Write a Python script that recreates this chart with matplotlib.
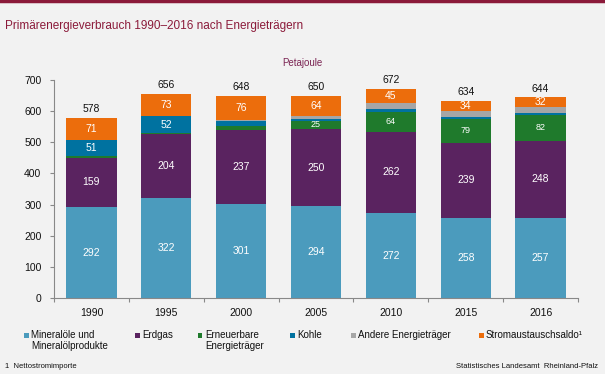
import matplotlib
matplotlib.use("Agg")
import matplotlib.pyplot as plt
from matplotlib.patches import Rectangle
import numpy as np

years = ["1990", "1995", "2000", "2005", "2010", "2015", "2016"]
mineraloel = [292, 322, 301, 294, 272, 258, 257]
erdgas = [159, 204, 237, 250, 262, 239, 248]
erneuerbare = [5, 5, 13, 25, 64, 79, 82]
kohle = [51, 52, 16, 7, 8, 4, 8]
andere = [0, 0, 5, 10, 21, 20, 17]
strom = [71, 73, 76, 64, 45, 34, 32]
totals = [578, 656, 648, 650, 672, 634, 644]

series_names = ["Mineralöle und\nMineralölprodukte", "Erdgas", "Erneuerbare\nEnergieträger",
                "Kohle", "Andere Energieträger", "Stromaustauschsaldo¹"]
colors = ["#4b9bbd", "#5a2360", "#1f7a2c", "#0072a0", "#a6a6a6", "#ec6d0c"]
# which series get value labels (threshold in PJ)
label_min = [0, 0, 25, 40, 1000, 0]

plt.rcParams["font.family"] = ["Liberation Sans", "DejaVu Sans"]
BG = "#f2f2f2"
DARKRED = "#8b1a3a"

fig = plt.figure(figsize=(6.05, 3.74), dpi=100, facecolor=BG)
W, H = 605, 374
ax = fig.add_axes([54 / W, (H - 298) / H, (578 - 54) / W, (298 - 80) / H])
ax.set_facecolor(BG)

x = np.arange(len(years))
data = [mineraloel, erdgas, erneuerbare, kohle, andere, strom]
bottom = np.zeros(len(years))
for i, (vals, c) in enumerate(zip(data, colors)):
    vals = np.array(vals, dtype=float)
    ax.bar(x, vals, width=0.67, bottom=bottom, color=c, linewidth=0)
    for j, v in enumerate(vals):
        if v >= label_min[i] and v > 0:
            fs = 6.5 if i == 2 else 7.5
            ax.text(x[j], bottom[j] + v / 2, f"{int(v)}", ha="center", va="center",
                    color="white", fontsize=fs)
    bottom += vals

for j, t in enumerate(totals):
    ax.text(x[j], t + 12, f"{t}", ha="center", va="bottom", color="#111111", fontsize=7.5)

ax.set_xlim(-0.5, len(years) - 0.5)
ax.set_ylim(0, 700)
ax.set_yticks(range(0, 701, 100))
ax.set_xticks(x)
ax.set_xticklabels(years, fontsize=7.5, color="#111111")
ax.set_xticks(np.arange(-0.5, len(years), 1.0), minor=True)
ax.tick_params(axis="x", which="major", length=0, pad=7)
ax.tick_params(axis="x", which="minor", length=3, color="#888888", width=0.8)
ax.tick_params(axis="y", length=3, color="#888888", width=0.8, labelsize=7.5,
               labelcolor="#111111", pad=6)
for s in ["top", "right"]:
    ax.spines[s].set_visible(False)
for s in ["left", "bottom"]:
    ax.spines[s].set_color("#888888")
    ax.spines[s].set_linewidth(0.8)

# Title and unit
fig.text(5 / W, 1 - 26 / H, "Primärenergieverbrauch 1990–2016 nach Energieträgern",
         color=DARKRED, fontsize=8.5, ha="left", va="center")
fig.text(302 / W, 1 - 63 / H, "Petajoule", color="#7b2453", fontsize=7, ha="center", va="center")

# top border line
fig.add_artist(plt.Line2D([0, 1], [1 - 1 / H, 1 - 1 / H], transform=fig.transFigure,
                          color=DARKRED, linewidth=2.5))

# Legend (manual)
leg_x = [26, 137, 200, 292, 353, 481]
for lx, name, c in zip(leg_x, series_names, colors):
    fig.add_artist(Rectangle(((lx - 2.5) / W, 1 - (335 + 2.5) / H), 5 / W, 5 / H,
                             transform=fig.transFigure, color=c, linewidth=0))
    fig.text((lx + 5) / W, 1 - 330 / H, name, fontsize=7, color="#111111",
             ha="left", va="top", linespacing=1.15)

fig.text(5 / W, 1 - 366 / H, "1  Nettostromimporte", fontsize=5.5, color="#111111",
         ha="left", va="center")
fig.text(598 / W, 1 - 366 / H, "Statistisches Landesamt  Rheinland-Pfalz", fontsize=5.5,
         color="#111111", ha="right", va="center")

fig.savefig("out.png", dpi=100, facecolor=BG)
